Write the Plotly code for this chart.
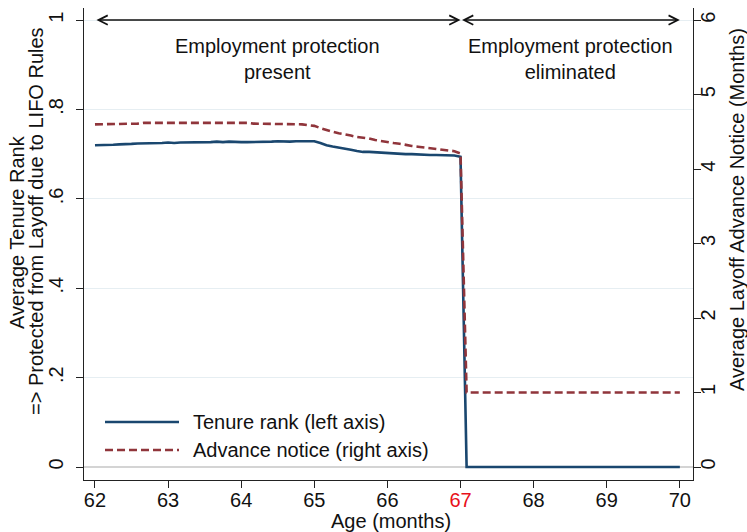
import plotly.graph_objects as go

# ---------------- data ----------------
age_months = list(range(744, 841))          # 62y0m .. 70y0m, monthly
age_years = [m / 12 for m in age_months]

tenure_rank = [
    0.720, 0.720, 0.721, 0.721, 0.722, 0.722, 0.723, 0.724, 0.724, 0.724, 0.725, 0.725,
    0.726, 0.725, 0.726, 0.726, 0.726, 0.727, 0.726, 0.727, 0.728, 0.727, 0.728, 0.727,
    0.727, 0.727, 0.727, 0.728, 0.727, 0.728, 0.729, 0.728, 0.728, 0.729, 0.729, 0.730,
    0.729, 0.725, 0.720, 0.717, 0.715, 0.713, 0.710, 0.707, 0.705, 0.705, 0.704, 0.703,
    0.703, 0.702, 0.701, 0.700, 0.700, 0.699, 0.698, 0.698, 0.698, 0.698, 0.697, 0.697,
    0.694,
    0, 0, 0, 0, 0, 0, 0, 0, 0, 0, 0, 0,
    0, 0, 0, 0, 0, 0, 0, 0, 0, 0, 0, 0,
    0, 0, 0, 0, 0, 0, 0, 0, 0, 0, 0, 0,
]

advance_notice = [
    4.60, 4.60, 4.60, 4.61, 4.61, 4.61, 4.61, 4.61, 4.62, 4.62, 4.62, 4.62,
    4.62, 4.62, 4.62, 4.62, 4.62, 4.62, 4.63, 4.63, 4.63, 4.63, 4.62, 4.62,
    4.62, 4.62, 4.61, 4.61, 4.61, 4.61, 4.61, 4.61, 4.61, 4.61, 4.60, 4.59,
    4.58, 4.55, 4.52, 4.50, 4.48, 4.47, 4.45, 4.43, 4.42, 4.41, 4.39, 4.38,
    4.36, 4.35, 4.34, 4.33, 4.31, 4.30, 4.29, 4.28, 4.27, 4.26, 4.25, 4.24,
    4.21,
    1, 1, 1, 1, 1, 1, 1, 1, 1, 1, 1, 1,
    1, 1, 1, 1, 1, 1, 1, 1, 1, 1, 1, 1,
    1, 1, 1, 1, 1, 1, 1, 1, 1, 1, 1, 1,
]

x_ticks = [62, 63, 64, 65, 66, 67, 68, 69, 70]
x_tick_labels = ["62", "63", "64", "65", "66", "<span style='color:#e8101a'>67</span>", "68", "69", "70"]
left_ticks = [0, 0.2, 0.4, 0.6, 0.8, 1]
left_tick_labels = ["0", ".2", ".4", ".6", ".8", "1"]
right_ticks = [0, 1, 2, 3, 4, 5, 6]
right_tick_labels = ["0", "1", "2", "3", "4", "5", "6"]

series_names = ["Tenure rank (left axis)", "Advance notice (right axis)"]
region_labels = ["Employment protection<br>present", "Employment protection<br>eliminated"]
cutoff_age = 67
start_age = 62
end_age = 70

# ---------------- style ----------------
FONT = "Liberation Sans, Arial, Helvetica, sans-serif"
FS = 20
NAVY = "#1a476f"
MAROON = "#90353b"
GRID = "#e6eef2"

W, H = 747, 532
ML, MR, MT, MB = 84, 54, 8, 52
PW, PH = W - ML - MR, H - MT - MB


def px(xp):
    return (xp - ML) / PW


def py(yp):
    return (H - MB - yp) / PH


fig = go.Figure()

fig.add_trace(go.Scatter(
    x=age_years, y=tenure_rank, mode="lines", name=series_names[0],
    line=dict(color=NAVY, width=2.6), yaxis="y", showlegend=False,
))
fig.add_trace(go.Scatter(
    x=age_years, y=advance_notice, mode="lines", name=series_names[1],
    line=dict(color=MAROON, width=2.6, dash="8px,4px"), yaxis="y2", showlegend=False,
))

axis_common = dict(
    showline=True, linecolor="#222", linewidth=1.3,
    ticks="outside", ticklen=7, tickcolor="#222", tickwidth=1.3,
    tickfont=dict(family=FONT, size=FS, color="#111"),
    automargin=False,
)

fig.update_layout(
    width=W, height=H,
    margin=dict(l=ML, r=MR, t=MT, b=MB),
    paper_bgcolor="white", plot_bgcolor="white",
    font=dict(family=FONT, size=FS, color="#111"),
    xaxis=dict(
        range=[61.85, 70.18], tickvals=x_ticks, ticktext=x_tick_labels,
        showgrid=False, zeroline=False, mirror=False, ticklabelstandoff=-5,
        **axis_common,
    ),
    yaxis=dict(
        range=[-0.029, 1.027], tickvals=left_ticks, ticktext=left_tick_labels,
        tickangle=-90, showgrid=True, gridcolor=GRID, gridwidth=1.3,
        zeroline=True, zerolinecolor="#d4d4d4", zerolinewidth=1.5,
        ticklabelstandoff=5,
        **axis_common,
    ),
    yaxis2=dict(
        range=[-0.174, 6.162], tickvals=right_ticks, ticktext=right_tick_labels,
        tickangle=-90, overlaying="y", side="right", ticklabelstandoff=-10,
        showgrid=False, zeroline=False, **axis_common,
    ),
    showlegend=False,
)

annotations = []
# double-headed arrows at the top
for a, b in [(start_age, cutoff_age), (cutoff_age, end_age)]:
    annotations.append(dict(
        x=b, y=1, ax=a, ay=1, xref="x", yref="y", axref="x", ayref="y",
        text="", showarrow=True, arrowside="end+start", arrowhead=5, startarrowhead=5,
        arrowsize=1.3, startarrowsize=1.3, arrowwidth=1.4, arrowcolor="#111",
    ))
# region labels
for xc, txt in [((start_age + cutoff_age) / 2, region_labels[0]),
                ((cutoff_age + end_age) / 2, region_labels[1])]:
    annotations.append(dict(
        x=xc, y=0.913, xref="x", yref="y", text=txt, showarrow=False,
        font=dict(family=FONT, size=FS, color="#111"), align="center",
        xanchor="center", yanchor="middle",
    ))

# axis titles
annotations += [
    dict(x=px(391), y=py(521), xref="paper", yref="paper", text="Age (months)",
         showarrow=False, xanchor="center", yanchor="middle",
         font=dict(family=FONT, size=FS, color="#111")),
    dict(x=px(17), y=py(232), xref="paper", yref="paper", text="Average Tenure Rank",
         textangle=-90, showarrow=False, xanchor="center", yanchor="middle",
         font=dict(family=FONT, size=FS, color="#111")),
    dict(x=px(36), y=py(221), xref="paper", yref="paper",
         text="=> Protected from Layoff due to LIFO Rules",
         textangle=-90, showarrow=False, xanchor="center", yanchor="middle",
         font=dict(family=FONT, size=FS, color="#111")),
    dict(x=px(737), y=py(210), xref="paper", yref="paper",
         text="Average Layoff Advance Notice (Months)",
         textangle=-90, showarrow=False, xanchor="center", yanchor="middle",
         font=dict(family=FONT, size=FS, color="#111")),
]

# manual legend
shapes = [
    dict(type="rect", xref="paper", yref="paper", x0=px(96), x1=px(444), y0=py(474), y1=py(398),
         fillcolor="white", line=dict(width=0), layer="between"),
    dict(type="line", xref="paper", yref="paper", x0=px(105), x1=px(179), y0=py(422), y1=py(422),
         line=dict(color=NAVY, width=2.6), layer="above"),
    dict(type="line", xref="paper", yref="paper", x0=px(105), x1=px(179), y0=py(450), y1=py(450),
         line=dict(color=MAROON, width=2.6, dash="8px,4px"), layer="above"),
]
annotations += [
    dict(x=px(191), y=py(422), xref="paper", yref="paper", text=series_names[0],
         showarrow=False, xanchor="left", yanchor="middle",
         font=dict(family=FONT, size=FS, color="#111")),
    dict(x=px(191), y=py(450), xref="paper", yref="paper", text=series_names[1],
         showarrow=False, xanchor="left", yanchor="middle",
         font=dict(family=FONT, size=FS, color="#111")),
]

fig.update_layout(annotations=annotations, shapes=shapes)
fig.write_html(
    "out.html",
    config={"displayModeBar": False},
    post_script="document.body.style.margin='0';document.body.style.padding='0';",
)
